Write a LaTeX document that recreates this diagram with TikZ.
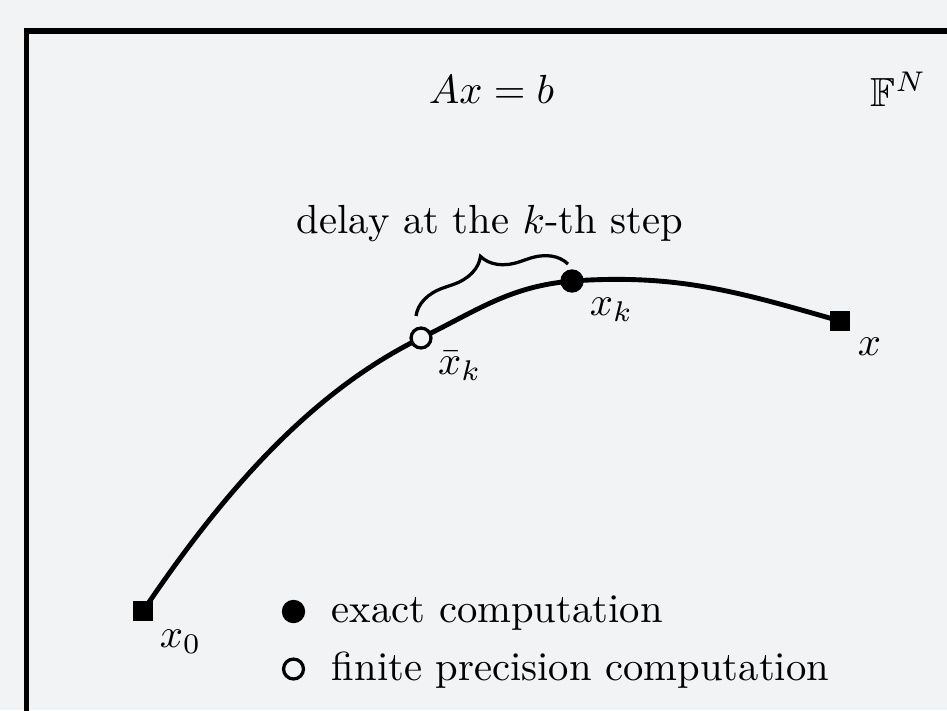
\documentclass[tikz,border=0pt]{standalone}
\usepackage{amsmath,amssymb}
\usepackage{xcolor}
\usetikzlibrary{positioning,calc,decorations.pathreplacing}
\definecolor{paper}{HTML}{F2F3F5}

\begin{document}
\begin{tikzpicture}[x=0.246pt, y=-0.246pt,
  sqr/.style={rectangle, fill=black, inner sep=0pt, minimum size=4.75pt},
  fulldot/.style={circle, fill=black, inner sep=0pt, minimum size=5.75pt},
  opendot/.style={circle, draw=black, fill=paper, line width=0.8pt, inner sep=0pt, minimum size=4.9pt},
  lbl/.style={inner sep=0pt}]
\useasboundingbox (0,0) rectangle (947,710);
\fill[paper] (0,0) rectangle (947,710);
\clip (0,0) rectangle (947,710);
\draw[line width=1.4pt] (26.5,30.8) rectangle (1100,900);
\node[lbl, anchor=base] (eq) at (491.5,103) {$Ax=b$};
\node[lbl, anchor=base west] (space) at (870,106) {$\mathbb{F}^N$};
% path of the iterates
\coordinate (s0) at (143,611);
\coordinate (sb) at (421,338);
\coordinate (sk) at (572,281);
\coordinate (s) at (840,321);
\draw[very thick] (s0) to[out=56, in=206, looseness=0.85] (sb) to[out=26, in=185] (sk) to[out=4, in=164] (s);
\node[sqr] (x0) at (s0) {};
\node[opendot] (xb) at (sb) {};
\node[fulldot] (xk) at (sk) {};
\node[sqr] (x) at (s) {};
\node[lbl, below right=1.8pt and 1.4pt of x0] (x0lbl) {$x_0$};
\node[lbl, below right=1pt and 2pt of xb] (xblbl) {$\bar{x}_k$};
\node[lbl, below right=1.7pt and 2pt of xk] (xklbl) {$x_k$};
\node[lbl, below right=1.3pt and 1.6pt of x] (xlbl) {$x$};
\coordinate (bl) at (416,316);
\coordinate (br) at (568,264);
\draw[thick, decorate, decoration={brace, amplitude=8.75pt}] (bl) -- (br);
\node[lbl, anchor=base] (delay) at (490,233) {delay at the $k$-th step};
% legend
\node[fulldot] (ldot) at (293.5,611.5) {};
\node[lbl, anchor=base west] (ltxt1) at (331,622) {exact computation};
\node[opendot] (lcirc) at (293.5,669) {};
\node[lbl, anchor=base west] (ltxt2) at (331,680) {finite precision computation};
\end{tikzpicture}
\end{document}
